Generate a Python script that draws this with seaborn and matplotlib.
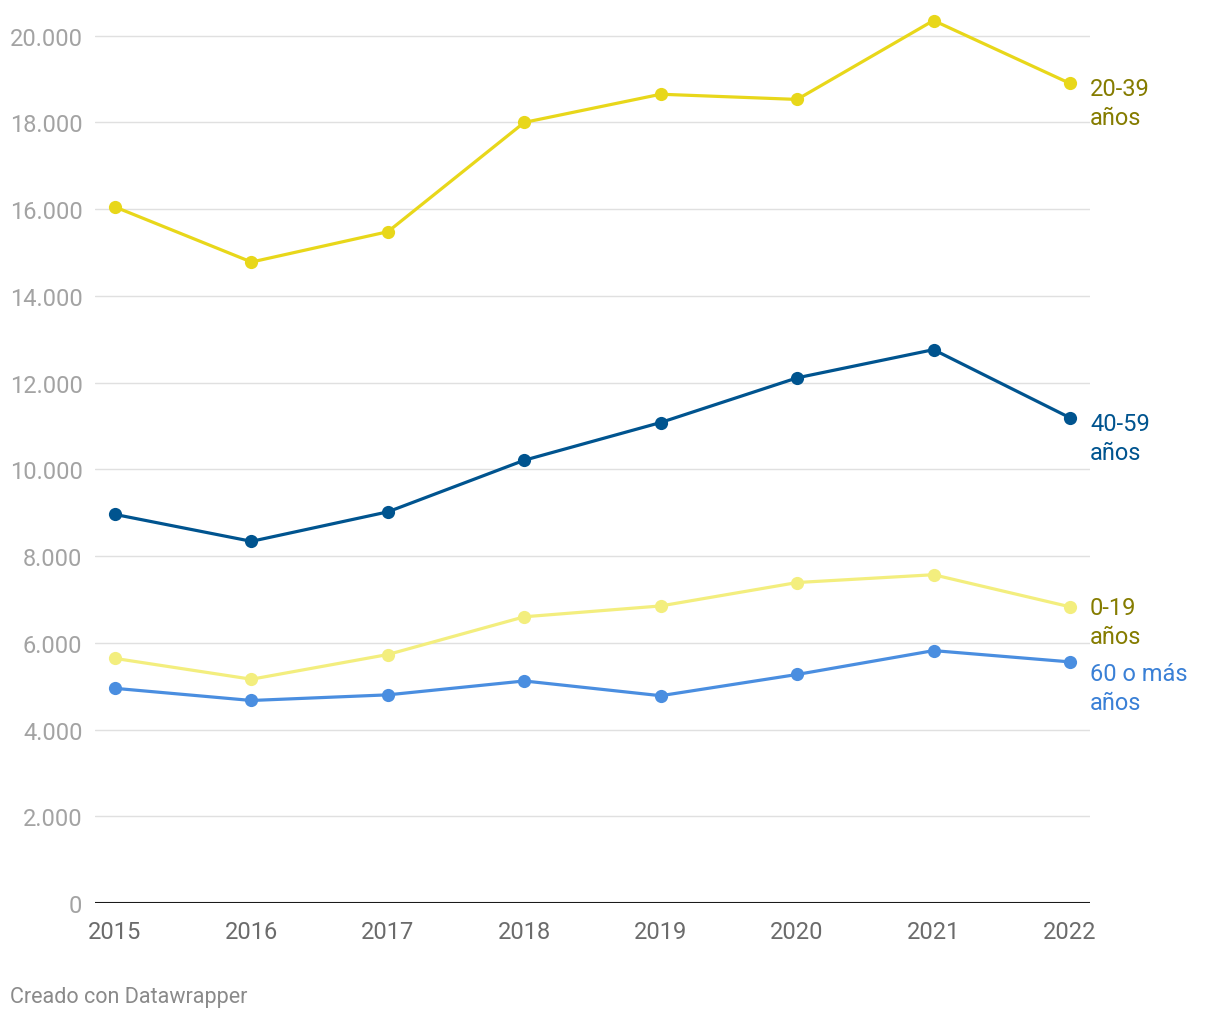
import pandas as pd
import matplotlib.pyplot as plt
import seaborn as sns
import numpy as np

# Data
years = [2015, 2016, 2017, 2018, 2019, 2020, 2021, 2022]
groups = ['20-39 años', '40-59 años', '0-19 años', '60 o más años']
v_20_39 = [16050, 14780, 15480, 18000, 18650, 18530, 20350, 18900]
v_40_59 = [8960, 8340, 9020, 10210, 11080, 12110, 12760, 11190]
v_0_19 = [5640, 5160, 5730, 6600, 6850, 7390, 7570, 6830]
v_60 = [4950, 4670, 4800, 5120, 4780, 5270, 5820, 5560]

line_colors = ['#e8d71a', '#00548f', '#f3ee7e', '#4a8ee0']
label_colors = ['#857c00', '#00548f', '#857c00', '#3a80d6']
label_texts = ['20-39\naños', '40-59\naños', '0-19\naños', '60 o más\naños']
label_offsets = [20, 20, 15, 26]  # pixels below the last point

df = pd.DataFrame({'Año': years * 4,
                   'Grupo': np.repeat(groups, len(years)),
                   'Valor': v_20_39 + v_40_59 + v_0_19 + v_60})

sns.set_theme(style='white')
plt.rcParams['font.family'] = ['Roboto', 'DejaVu Sans']

fig = plt.figure(figsize=(12.2, 10.2), dpi=100)
ax = fig.add_axes([95 / 1220, 116 / 1020, 995 / 1220, 889 / 1020])

sns.lineplot(data=df, x='Año', y='Valor', hue='Grupo', hue_order=groups,
             palette=line_colors, marker='o', markersize=9.5, markeredgewidth=0,
             linewidth=2.3, legend=False, ax=ax, zorder=3)

ax.set_xlim(2015 - 0.147, 2022 + 0.147)
ax.set_ylim(0, 20500)
ax.set_yticks(range(0, 20001, 2000))
ax.set_yticklabels([f'{v:,}'.replace(',', '.') for v in range(0, 20001, 2000)])
ax.set_xticks(years)
ax.set_xticklabels([str(y) for y in years])

for y in range(2000, 20001, 2000):
    ax.axhline(y, color='#e0e0e0', linewidth=1, zorder=1)
ax.axhline(0, color='#1a1a1a', linewidth=1.5, zorder=2)

for s in ax.spines.values():
    s.set_visible(False)
ax.grid(False)
ax.tick_params(axis='y', length=0, pad=9, labelsize=17, labelcolor='#a3a3a3')
ax.tick_params(axis='x', length=0, pad=12, labelsize=17, labelcolor='#6b6b6b')
ax.set_xlabel('')
ax.set_ylabel('')

series = [v_20_39, v_40_59, v_0_19, v_60]
for vals, txt, col, off in zip(series, label_texts, label_colors, label_offsets):
    ax.annotate(txt, xy=(1.0, vals[-1]), xycoords=('axes fraction', 'data'),
                xytext=(0, -off), textcoords='offset pixels',
                ha='left', va='center', fontsize=17, color=col, linespacing=1.34)

fig.text(10 / 1220, 1 - 998 / 1020, 'Creado con Datawrapper', fontsize=15.5,
         color='#8a8a8a', ha='left', va='center')

fig.savefig('out.png', dpi=100)
